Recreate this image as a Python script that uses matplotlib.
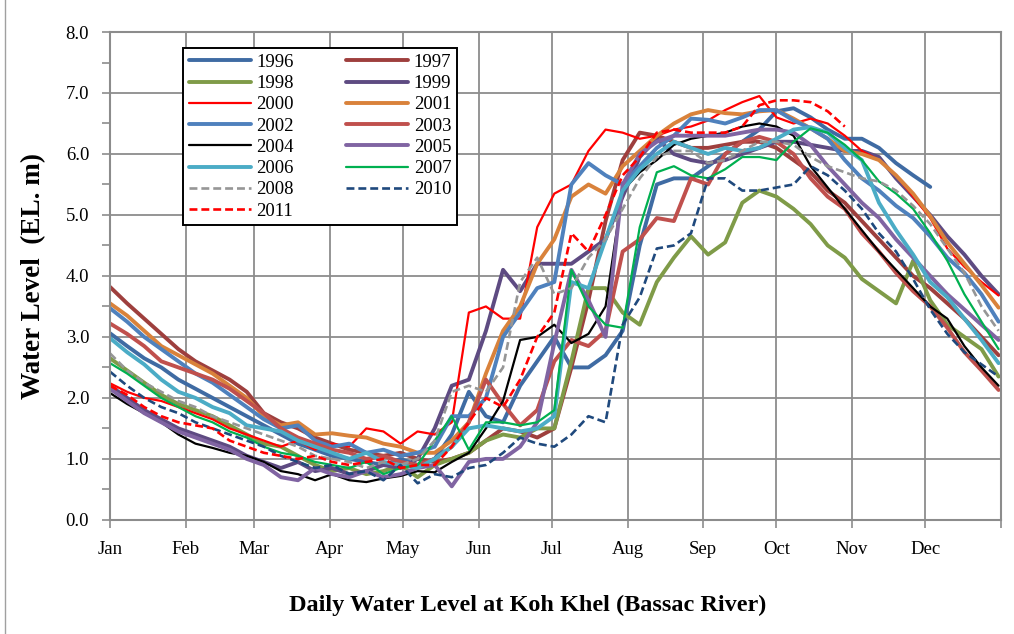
import numpy as np
import matplotlib
matplotlib.use("Agg")
import matplotlib.pyplot as plt
from matplotlib.lines import Line2D
from matplotlib.ticker import MultipleLocator, FormatStrFormatter

plt.rcParams["font.family"] = ["Liberation Serif", "DejaVu Serif"]

nan = np.nan

# sample days (day of year, weekly)
DAYS = list(range(0, 365, 7))

MONTHS = ["Jan", "Feb", "Mar", "Apr", "May", "Jun",
          "Jul", "Aug", "Sep", "Oct", "Nov", "Dec"]
MONTH_START = [0, 31, 59, 90, 120, 151, 181, 212, 243, 273, 304, 334]

# water level (m) at weekly samples
WL_1996 = [3.06, 2.85, 2.65, 2.5, 2.3, 2.15, 2.0, 1.85, 1.7, 1.55, 1.4, 1.25, 1.15, 1.05, 1.0, 0.95, 0.9, 1.0, 0.9,
           1.0, 1.4, 2.1, 1.7, 1.6, 2.2, 2.6, 3.0, 2.5, 2.5, 2.7, 3.1,
           4.5, 5.5, 5.6, 5.6, 5.8, 6.0, 6.2, 6.4, 6.7, 6.75, 6.6, 6.4, 6.25, 6.25, 6.1, 5.85, 5.65, 5.46,
           nan, nan, nan, nan]
WL_1997 = [3.82, 3.55, 3.3, 3.05, 2.8, 2.6, 2.45, 2.3, 2.1, 1.75, 1.6, 1.5, 1.35, 1.25, 1.15, 1.1, 1.05, 1.1, 1.0,
           0.95, 1.0, 1.1, 1.3, 1.5, 1.45, 1.35, 1.5, 2.5, 3.6, 4.9, 5.9,
           6.35, 6.3, 6.2, 6.1, 6.1, 6.15, 6.2, 6.2, 6.1, 5.9, 5.7, 5.4, 5.2, 4.9, 4.6, 4.3, 4.0, 3.8, 3.55, 3.3,
           3.0, 2.7]
WL_1998 = [2.65, 2.45, 2.25, 2.05, 1.9, 1.8, 1.7, 1.55, 1.4, 1.25, 1.2, 1.05, 0.9, 0.8, 0.85, 0.75, 0.8, 0.9, 0.7,
           0.9, 1.0, 1.1, 1.3, 1.4, 1.35, 1.5, 1.5, 2.6, 3.8, 3.8, 3.4,
           3.2, 3.9, 4.3, 4.65, 4.35, 4.55, 5.2, 5.4, 5.3, 5.1, 4.85, 4.5, 4.3, 3.95, 3.75, 3.55, 4.25, 3.6, 3.2,
           3.0, 2.8, 2.35]
WL_1999 = [2.2, 2.0, 1.8, 1.65, 1.5, 1.4, 1.3, 1.2, 1.05, 0.95, 0.85, 0.95, 0.8, 0.85, 0.75, 0.8, 0.9, 0.85, 1.0,
           1.5, 2.2, 2.3, 3.1, 4.1, 3.75, 4.2, 4.2, 4.2, 4.4, 4.6, 5.3,
           5.95, 6.25, 6.0, 5.9, 5.85, 5.9, 6.0, 6.1, 6.2, 6.2, 6.15, 6.1, 6.05, 6.05, 5.95, 5.6, 5.3, 5.0, 4.65,
           4.35, 4.0, 3.7]
WL_2000 = [2.24, 2.1, 2.0, 1.95, 1.85, 1.75, 1.65, 1.5, 1.4, 1.3, 1.2, 1.3, 1.15, 1.25, 1.2, 1.5, 1.45, 1.25, 1.45,
           1.4, 1.6, 3.4, 3.5, 3.3, 3.3, 4.8, 5.35, 5.5, 6.05, 6.4, 6.35,
           6.25, 6.3, 6.4, 6.45, 6.55, 6.72, 6.85, 6.95, 6.6, 6.5, 6.58, 6.5, 6.3, 6.05, 5.9, 5.65, 5.3, 4.95, 4.45,
           4.15, 3.9, 3.68]
WL_2001 = [3.55, 3.35, 3.1, 2.85, 2.7, 2.55, 2.4, 2.2, 2.0, 1.7, 1.55, 1.6, 1.4, 1.42, 1.38, 1.35, 1.25, 1.2, 1.1,
           1.1, 1.3, 1.6, 2.4, 3.1, 3.5, 4.2, 4.6, 5.3, 5.5, 5.35, 5.8,
           6.05, 6.3, 6.5, 6.65, 6.72, 6.67, 6.65, 6.7, 6.72, 6.58, 6.42, 6.25, 6.05, 6.0, 5.9, 5.65, 5.35, 4.98,
           4.55, 4.2, 3.85, 3.48]
WL_2002 = [3.47, 3.25, 3.0, 2.8, 2.6, 2.4, 2.25, 2.05, 1.85, 1.65, 1.5, 1.55, 1.3, 1.2, 1.25, 1.1, 1.15, 1.05, 1.1,
           1.2, 1.7, 1.7, 2.0, 3.0, 3.4, 3.8, 3.9, 5.5, 5.85, 5.65, 5.5,
           5.8, 6.1, 6.3, 6.58, 6.56, 6.5, 6.6, 6.72, 6.72, 6.55, 6.42, 6.25, 5.9, 5.6, 5.4, 5.15, 4.95, 4.65, 4.3,
           4.05, 3.7, 3.25]
WL_2003 = [3.22, 3.05, 2.85, 2.6, 2.5, 2.4, 2.3, 2.15, 1.95, 1.75, 1.5, 1.35, 1.25, 1.15, 1.1, 1.0, 1.05, 0.95, 0.9,
           1.0, 1.2, 1.6, 2.3, 1.9, 1.55, 1.8, 2.6, 2.95, 2.85, 3.1, 4.4,
           4.6, 4.95, 4.9, 5.6, 5.5, 6.0, 6.2, 6.28, 6.2, 6.0, 5.6, 5.3, 5.1, 4.7, 4.4, 4.05, 3.75, 3.5, 3.15,
           2.75, 2.45, 2.13]
WL_2004 = [2.08, 1.9, 1.75, 1.6, 1.4, 1.25, 1.18, 1.1, 1.05, 0.95, 0.8, 0.75, 0.65, 0.75, 0.65, 0.62, 0.68, 0.72, 0.8,
           0.78, 0.95, 1.1, 1.5, 1.95, 2.95, 3.0, 3.2, 2.9, 3.05, 3.5, 5.4,
           5.7, 5.9, 6.15, 6.25, 6.3, 6.35, 6.45, 6.5, 6.45, 6.3, 5.8, 5.45, 5.1, 4.75, 4.4, 4.1, 3.8, 3.5, 3.3,
           2.85, 2.5, 2.2]
WL_2005 = [2.15, 1.95, 1.75, 1.6, 1.45, 1.35, 1.25, 1.15, 1.0, 0.9, 0.7, 0.65, 0.85, 0.75, 0.7, 0.8, 0.7, 0.75, 0.85,
           0.9, 0.55, 0.95, 1.0, 1.0, 1.2, 1.6, 2.9, 4.1, 3.6, 3.0, 5.5,
           6.0, 6.2, 6.3, 6.3, 6.3, 6.3, 6.35, 6.4, 6.4, 6.35, 6.15, 5.8, 5.5, 5.2, 4.95, 4.6, 4.3, 4.0, 3.7,
           3.45, 3.2, 2.95]
WL_2006 = [2.98, 2.75, 2.55, 2.3, 2.1, 2.0, 1.85, 1.75, 1.55, 1.5, 1.45, 1.3, 1.2, 1.1, 1.0, 1.1, 0.95, 0.9, 0.85,
           1.0, 1.2, 1.5, 1.55, 1.5, 1.45, 1.5, 1.7, 3.9, 3.8, 4.6, 5.4,
           5.75, 6.0, 6.2, 6.1, 6.0, 6.1, 6.05, 6.1, 6.25, 6.4, 6.44, 6.35, 6.1, 5.9, 5.2, 4.75, 4.35, 3.9, 3.65,
           3.3, 2.95, 2.57]
WL_2007 = [2.57, 2.4, 2.2, 2.0, 1.85, 1.7, 1.6, 1.45, 1.35, 1.2, 1.1, 1.05, 0.95, 0.9, 0.85, 0.95, 0.75, 0.85, 0.9,
           1.3, 1.7, 1.15, 1.6, 1.6, 1.55, 1.6, 1.8, 4.1, 3.5, 3.2, 3.15,
           4.8, 5.7, 5.8, 5.65, 5.6, 5.75, 5.95, 5.95, 5.9, 6.2, 6.42, 6.35, 6.15, 5.9, 5.55, 5.35, 5.1, 4.7, 4.25,
           3.7, 3.25, 2.8]
WL_2008 = [2.73, 2.45, 2.25, 2.1, 1.95, 1.85, 1.7, 1.6, 1.5, 1.4, 1.3, 1.2, 1.05, 1.0, 0.95, 0.85, 0.95, 0.9, 1.0,
           1.3, 2.1, 2.2, 2.1, 2.5, 3.9, 4.3, 3.7, 3.8, 4.3, 4.6, 5.1,
           5.6, 5.95, 6.05, 6.05, 5.85, 5.9, 6.05, 6.2, 6.2, 6.15, 5.95, 5.8, 5.7, 5.6, 5.55, 5.4, 5.15, 4.85, 4.45,
           4.05, 3.5, 3.1]
WL_2010 = [2.43, 2.2, 2.0, 1.85, 1.75, 1.6, 1.5, 1.4, 1.3, 1.2, 1.05, 0.95, 0.85, 0.9, 0.75, 0.8, 0.65, 0.9, 0.6,
           0.75, 0.7, 0.85, 0.9, 1.1, 1.35, 1.25, 1.2, 1.4, 1.7, 1.6, 3.2,
           3.65, 4.45, 4.5, 4.7, 5.6, 5.6, 5.4, 5.4, 5.45, 5.5, 5.8, 5.65, 5.4, 5.1, 4.7, 4.4, 3.95, 3.45, 3.05,
           2.75, 2.55, 2.35]
WL_2011 = [2.2, 2.05, 1.85, 1.7, 1.6, 1.55, 1.5, 1.3, 1.2, 1.1, 1.05, 1.0, 1.05, 0.95, 0.9, 0.95, 1.0, 0.85, 0.9,
           0.9, 1.2, 1.6, 2.0, 1.85, 2.3, 3.0, 3.4, 4.7, 4.4, 5.0, 5.65,
           5.95, 6.35, 6.4, 6.35, 6.35, 6.35, 6.45, 6.8, 6.88, 6.88, 6.85, 6.7, 6.45,
           nan, nan, nan, nan, nan, nan, nan, nan, nan]

# (label, values, color, linewidth, linestyle)
SERIES = [
    ("1996", WL_1996, "#3F6BA3", 2.8, "-"),
    ("1997", WL_1997, "#9E3F3D", 2.8, "-"),
    ("1998", WL_1998, "#7F9B48", 2.8, "-"),
    ("1999", WL_1999, "#5E4B82", 2.8, "-"),
    ("2000", WL_2000, "#FF0000", 1.6, "-"),
    ("2001", WL_2001, "#D9823B", 2.8, "-"),
    ("2002", WL_2002, "#4F81BD", 2.8, "-"),
    ("2003", WL_2003, "#C0504D", 2.8, "-"),
    ("2004", WL_2004, "#000000", 1.6, "-"),
    ("2005", WL_2005, "#8064A2", 2.8, "-"),
    ("2006", WL_2006, "#4BACC6", 2.8, "-"),
    ("2007", WL_2007, "#00B050", 1.6, "-"),
    ("2008", WL_2008, "#969696", 1.9, (0, (3, 1.5))),
    ("2010", WL_2010, "#1F497D", 1.9, (0, (3, 1.5))),
    ("2011", WL_2011, "#FF0000", 1.9, (0, (3, 1.5))),
]

GRID = "#8C8C8C"

fig = plt.figure(figsize=(10.14, 6.34), dpi=100)
fig.add_artist(Line2D([0.005, 0.005], [0, 1], color="#A0A0A0", lw=1.0))
ax = fig.add_axes([0.1085, 0.18, 0.8787, 0.7695])

handles = {}
for label, vals, color, lw, ls in SERIES:
    (h,) = ax.plot(DAYS, vals, color=color, lw=lw, ls=ls, label=label,
                   solid_capstyle="round", solid_joinstyle="round")
    handles[label] = h

ax.set_xlim(0, 365)
ax.set_ylim(0, 8)
ax.set_xticks(MONTH_START + [365])
ax.set_xticklabels(MONTHS + [""])
ax.yaxis.set_major_locator(MultipleLocator(1.0))
ax.yaxis.set_minor_locator(MultipleLocator(0.5))
ax.yaxis.set_major_formatter(FormatStrFormatter("%.1f"))
ax.grid(True, which="major", color=GRID, lw=1.3)
ax.set_axisbelow(True)
for sp in ax.spines.values():
    sp.set_color(GRID)
    sp.set_linewidth(1.5)
ax.tick_params(axis="both", which="both", direction="out", length=6,
               color=GRID, width=1.2, labelsize=13.5, pad=9)

ax.set_ylabel("Water Level  (EL. m)", fontsize=19.5, fontweight="bold", labelpad=14)
fig.text(0.52, 0.045, "Daily Water Level at Koh Khel (Bassac River)",
         ha="center", va="center", fontsize=17.5, fontweight="bold")

# two-column legend, filled column by column
order = ["1996", "1998", "2000", "2002", "2004", "2006", "2008", "2011",
         "1997", "1999", "2001", "2003", "2005", "2007", "2010"]
leg = ax.legend([handles[k] for k in order], order, ncol=2,
                loc="upper left", bbox_to_anchor=(0.082, 0.967), borderaxespad=0,
                fontsize=13.5, frameon=True, fancybox=False, framealpha=1,
                edgecolor="black", handlelength=3.3, handletextpad=0.3,
                columnspacing=2.8, labelspacing=0.22, borderpad=0.3)
leg.get_frame().set_linewidth(1.4)

fig.savefig("out.png", dpi=100)
